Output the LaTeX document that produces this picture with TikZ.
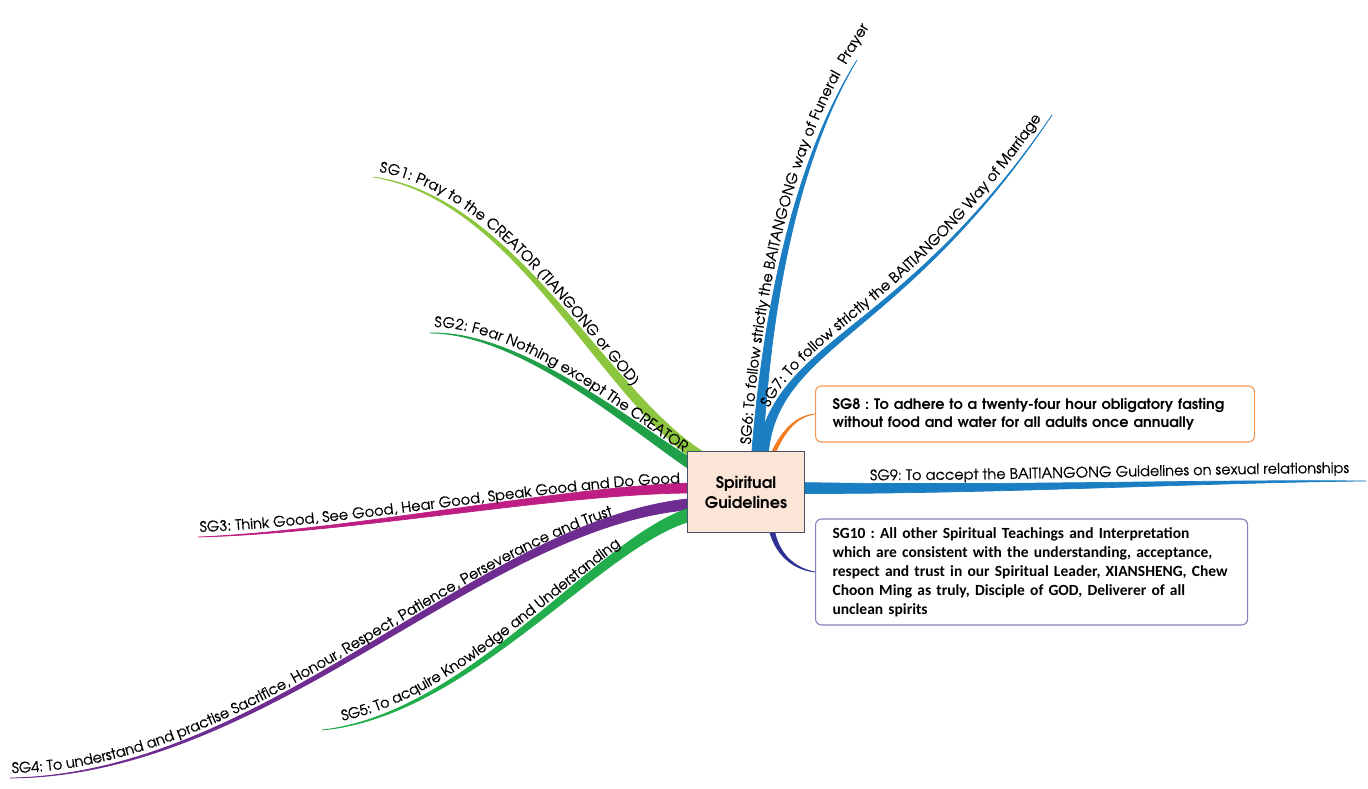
\documentclass[tikz,border=0pt]{standalone}
\usepackage{fontspec}
\setmainfont{Carlito}
\newfontfamily\gothic{TeX Gyre Adventor}
\newfontfamily\gothicdark[FakeBold=0.5]{TeX Gyre Adventor}
\usetikzlibrary{calc}
\usetikzlibrary{decorations.text}
\frenchspacing

\definecolor{sgone}{HTML}{8CC63E}
\definecolor{sgtwo}{HTML}{1F9F48}
\definecolor{sgthree}{HTML}{BE1E84}
\definecolor{sgfour}{HTML}{6E2C90}
\definecolor{sgfive}{HTML}{21AD4B}
\definecolor{sgblue}{HTML}{1B7DC2}
\definecolor{sgorange}{HTML}{F47B20}
\definecolor{sgnavy}{HTML}{2E3192}
\definecolor{hubfill}{HTML}{FBE5D6}
\definecolor{hubline}{HTML}{44546A}

\newcommand{\branchfont}{\gothicdark\fontsize{14.5}{17}\selectfont}
% tapered branch: colour, half width, start, control 1, control 2, end
\newcommand{\mapbranch}[6]{%
  \filldraw[#1, line width=0.7pt, line join=round]
    ($(#3)!#2!90:(#4)$) .. controls ($(#4)!0.7*#2!90:(#5)$) and ($(#5)!0.3*#2!90:(#6)$) .. (#6)
    .. controls ($(#5)!0.3*#2!-90:(#6)$) and ($(#4)!0.7*#2!-90:(#5)$) .. ($(#3)!#2!-90:(#4)$) -- cycle;}

\begin{document}
\begin{tikzpicture}[x=1pt, y=-1pt,
		hubbox/.style={draw=hubline, line width=1.2pt, fill=hubfill, minimum width=117pt, minimum height=81pt, align=center, font=\gothic\bfseries\fontsize{16}{20}\selectfont},
		notebox/.style={rounded corners=6pt, line width=1.1pt, fill=white, anchor=west, align=left, inner xsep=17pt, inner ysep=6pt},
		along/.style={decorate, decoration={text along path, text color=black, raise=#1}}]
		\useasboundingbox (0,0) rectangle (1368,789);

		\node (sg8) [notebox, draw=sgorange!80, text width=405pt, minimum height=56pt, font=\gothic\bfseries\fontsize{14.5}{18}\selectfont] at (815,414)
			{SG8 : To adhere to a twenty-four hour obligatory fasting\\without food and water for all adults once annually};
		\node (sg10) [notebox, draw=sgnavy!60, text width=398pt, minimum height=106pt, font=\bfseries\fontsize{15.5}{19}\selectfont] at (815,572)
			{SG10 : All other Spiritual Teachings and Interpretation\\which are consistent with the understanding, acceptance,\\respect and trust in our Spiritual Leader, XIANSHENG, Chew\\Choon Ming as truly, Disciple of GOD, Deliverer of all\\unclean spirits};

		% left side
		\coordinate (sg1s) at (700,457); \coordinate (sg1a) at (600,390); \coordinate (sg1b) at (515,198); \coordinate (sg1e) at (373,177);
		\coordinate (sg2s) at (692,465); \coordinate (sg2a) at (630,425); \coordinate (sg2b) at (520,332); \coordinate (sg2e) at (430,333);
		\coordinate (sg3s) at (692,488); \coordinate (sg3a) at (560,490); \coordinate (sg3b) at (350,532); \coordinate (sg3e) at (198,537);
		\coordinate (sg4s) at (692,504); \coordinate (sg4a) at (480,522); \coordinate (sg4b) at (270,775); \coordinate (sg4e) at (10,778);
		\coordinate (sg5s) at (692,514); \coordinate (sg5a) at (600,540); \coordinate (sg5b) at (470,715); \coordinate (sg5e) at (322,730);
		% right side
		\coordinate (sg6s) at (757,457); \coordinate (sg6a) at (765,330); \coordinate (sg6b) at (790,170); \coordinate (sg6e) at (857,60);
		\coordinate (sg7s) at (762,457); \coordinate (sg7a) at (775,340); \coordinate (sg7b) at (900,340); \coordinate (sg7e) at (1052,115);
		\coordinate (sg9s) at (800,488); \coordinate (sg9a) at (1000,490); \coordinate (sg9b) at (1200,481); \coordinate (sg9e) at (1366,481);
		\coordinate (sg8s) at (772,456); \coordinate (sg8a) at (784,428); \coordinate (sg8b) at (798,416);
		\coordinate (sg10s) at (772,531); \coordinate (sg10a) at (778,556); \coordinate (sg10b) at (795,569);

		\mapbranch{sgone}{6pt}{sg1s}{sg1a}{sg1b}{sg1e}
		\mapbranch{sgtwo}{5pt}{sg2s}{sg2a}{sg2b}{sg2e}
		\mapbranch{sgthree}{5pt}{sg3s}{sg3a}{sg3b}{sg3e}
		\mapbranch{sgfour}{5.5pt}{sg4s}{sg4a}{sg4b}{sg4e}
		\mapbranch{sgfive}{6.5pt}{sg5s}{sg5a}{sg5b}{sg5e}
		\mapbranch{sgblue}{5.5pt}{sg6s}{sg6a}{sg6b}{sg6e}
		\mapbranch{sgblue}{6pt}{sg7s}{sg7a}{sg7b}{sg7e}
		\mapbranch{sgblue}{5.5pt}{sg9s}{sg9a}{sg9b}{sg9e}
		\mapbranch{sgorange}{2pt}{sg8s}{sg8a}{sg8b}{sg8.west}
		\mapbranch{sgnavy}{2.5pt}{sg10s}{sg10a}{sg10b}{sg10.west}

		% labels along the branches
		\path[along=6pt, decoration={text align={left, left indent=5pt}, text={|\branchfont|SG1: Pray to the CREATOR (TIANGONG or GOD)}}]
			(sg1e) .. controls (sg1b) and (sg1a) .. (sg1s);
		\path[along=6pt, decoration={text align={left, left indent=4pt}, text={|\branchfont|SG2: Fear Nothing except The CREATOR}}]
			(sg2e) .. controls (sg2b) and (sg2a) .. (sg2s);
		\path[along=5pt, decoration={text align={left, left indent=2pt}, text={|\branchfont|SG3: Think Good, See Good, Hear Good, Speak Good and Do Good}}]
			(sg3e) .. controls (sg3b) and (sg3a) .. (sg3s);
		\path[along=5pt, decoration={text align={left, left indent=2pt}, text={|\branchfont|SG4: To understand and practise Sacrifice, Honour, Respect, Patience, Perseverance and Trust}}]
			(sg4e) .. controls (sg4b) and (sg4a) .. (sg4s);
		\path[along=6pt, decoration={text align={left, left indent=22pt}, text={|\branchfont|SG5: To acquire Knowledge and Understanding}}]
			(sg5e) .. controls (sg5b) and (sg5a) .. (sg5s);
		\path[along=7pt, decoration={text align={left, left indent=12pt}, text={|\branchfont|SG6: To follow strictly the BAITANGONG way of Funeral{\kern10pt}Prayer}}]
			(sg6s) .. controls (sg6a) and (sg6b) .. (sg6e) -- ($(sg6e)+(42,-68)$);
		\path[along=7pt, decoration={text align={left, left indent=48pt}, text={|\branchfont|SG7: To follow strictly the BAITIANGONG Way of Marriage}}]
			(sg7s) .. controls (sg7a) and (sg7b) .. (sg7e) -- ($(sg7e)+(17,-25)$);
		\path[along=8pt, decoration={text align={left, left indent=70pt}, text={|\branchfont|SG9: To accept the BAITIANGONG Guidelines on sexual relationships}}]
			(sg9s) .. controls (sg9a) and (sg9b) .. (sg9e);

		\node (hub) [hubbox] at (746,492) {Spiritual\\Guidelines};
	\end{tikzpicture}
\end{document}
